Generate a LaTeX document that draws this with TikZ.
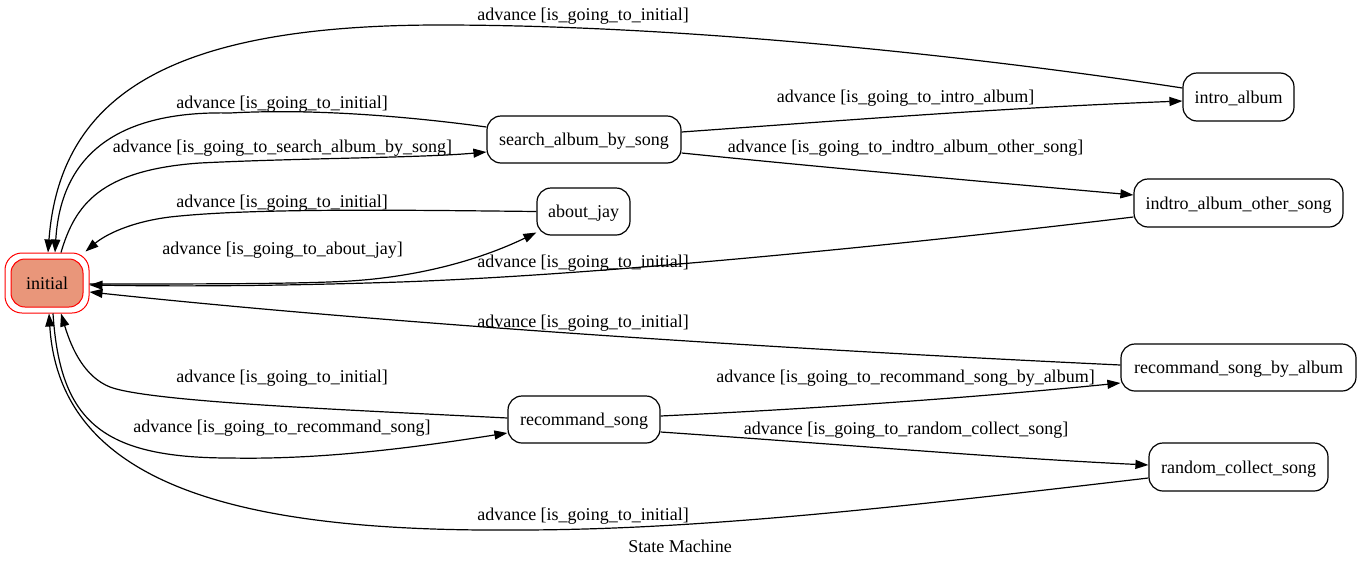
\documentclass[tikz,border=0pt]{standalone}
\usepackage{fontspec}
\setmainfont{Liberation Serif}
\usetikzlibrary{arrows.meta,calc}
\definecolor{initfill}{RGB}{233,150,122}
\tikzset{
  state/.style={draw, line width=1.2pt, rounded corners=14pt, minimum height=47pt, inner sep=0pt, text height=12.6pt, text depth=0pt, font=\fontsize{18}{21}\selectfont},
  lbl/.style={inner sep=0pt, text height=12.6pt, text depth=0pt, font=\fontsize{18}{21}\selectfont},
  tr/.style={draw, line width=1.2pt, -{Triangle[length=13pt,width=9pt]}},
}
\begin{document}
\begin{tikzpicture}[x=1pt,y=-1pt]
\useasboundingbox (0,0) rectangle (1361,568);
\fill[white] (0,0) rectangle (1361,568);
% nodes
\node[state, draw=red, line width=1pt, minimum width=84pt, minimum height=60pt, rounded corners=17pt] (inio) at (47,283) {};
\node[state, draw=red, line width=1pt, fill=initfill, minimum width=72pt, minimum height=48pt] (ini) at (47,283) {initial};
\node[state, minimum width=194pt] (sabs) at (584,139.5) {search\_album\_by\_song};
\node[state, minimum width=93pt] (aj) at (583.5,211.5) {about\_jay};
\node[state, minimum width=111pt, minimum height=48pt] (ia) at (1238.5,97) {intro\_album};
\node[state, minimum width=209pt, minimum height=48pt] (iaos) at (1238.5,203) {indtro\_album\_other\_song};
\node[state, minimum width=235pt] (rsba) at (1238.5,367.5) {recommand\_song\_by\_album};
\node[state, minimum width=152pt] (rs) at (584,419.5) {recommand\_song};
\node[state, minimum width=179pt, minimum height=48pt] (rcs) at (1238.5,467) {random\_collect\_song};
% labels
\node[lbl] (l1) at (583,14) {advance [is\_going\_to\_initial]};
\node[lbl] (l2) at (282,102) {advance [is\_going\_to\_initial]};
\node[lbl] (l3) at (282.5,146) {advance [is\_going\_to\_search\_album\_by\_song]};
\node[lbl] (l4) at (282,201) {advance [is\_going\_to\_initial]};
\node[lbl] (l5) at (282.5,248) {advance [is\_going\_to\_about\_jay]};
\node[lbl] (l6) at (583,261) {advance [is\_going\_to\_initial]};
\node[lbl] (l7) at (583,321) {advance [is\_going\_to\_initial]};
\node[lbl] (l8) at (282,376) {advance [is\_going\_to\_initial]};
\node[lbl] (l9) at (282,426) {advance [is\_going\_to\_recommand\_song]};
\node[lbl] (l10) at (583,514) {advance [is\_going\_to\_initial]};
\node[lbl] (l11) at (905.5,96) {advance [is\_going\_to\_intro\_album]};
\node[lbl] (l12) at (905.5,146) {advance [is\_going\_to\_indtro\_album\_other\_song]};
\node[lbl] (l13) at (905.5,376) {advance [is\_going\_to\_recommand\_song\_by\_album]};
\node[lbl] (l14) at (906,428) {advance [is\_going\_to\_random\_collect\_song]};
\node[lbl] (title) at (680,546) {State Machine};
% edges
\draw[tr] ($(ia.west)+(0,-9)$) .. controls (1000,60) and (700,25) .. (440,25) .. controls (170,25) and (60,95) .. ($(inio.north)+(1,0)$);
\draw[tr] ($(sabs.west)+(0,-12.5)$) .. controls (420,118) and (320,108) .. (230,113) .. controls (100,110) and (60,170) .. ($(inio.north)+(8,0)$);
\draw[tr] ($(inio.north)+(14,0)$) .. controls (75,205) and (100,170) .. (200,163) .. controls (300,158) and (420,158) .. ($(sabs.west)+(0,12.5)$);
\draw[tr] (aj.west) .. controls (400,210) and (250,208) .. (170,217) .. controls (130,222) and (105,235) .. ($(inio.north east)+(-4,-1)$);
\draw[tr] ($(inio.east)+(0,1)$) .. controls (200,284) and (300,284) .. (350,281) .. controls (430,276) and (490,255) .. ($(aj.west)+(0,21)$);
\draw[tr] ($(iaos.west)+(0,14)$) .. controls (900,245) and (600,275) .. (400,282) .. controls (250,287) and (150,286) .. ($(inio.east)+(0,2)$);
\draw[tr] ($(rsba.west)+(0,-2.5)$) .. controls (800,350) and (400,325) .. ($(inio.east)+(0,9)$);
\draw[tr] ($(rs.west)+(0,-1.5)$) .. controls (350,410) and (150,402) .. (110,387) .. controls (85,377) and (72,350) .. ($(inio.south)+(14,0)$);
\draw[tr] ($(inio.south)+(6,0)$) .. controls (60,420) and (100,458) .. (230,458) .. controls (330,460) and (430,445) .. ($(rs.west)+(0,13.5)$);
\draw[tr] ($(rcs.west)+(0,11)$) .. controls (900,507) and (700,530) .. (517,530) .. controls (250,532) and (60,490) .. ($(inio.south)+(2,0)$);
\draw[tr] ($(sabs.east)+(0,-7.5)$) .. controls (850,120) and (1000,108) .. ($(ia.west)+(0,4)$);
\draw[tr] ($(sabs.east)+(0,13.5)$) .. controls (850,170) and (1000,183) .. ($(iaos.west)+(0,-8)$);
\draw[tr] ($(rs.east)+(0,-3.5)$) .. controls (850,407) and (1000,395) .. ($(rsba.west)+(0,15.5)$);
\draw[tr] ($(rs.east)+(0,12.5)$) .. controls (850,445) and (1000,458) .. ($(rcs.west)+(0,-2)$);
\end{tikzpicture}
\end{document}
